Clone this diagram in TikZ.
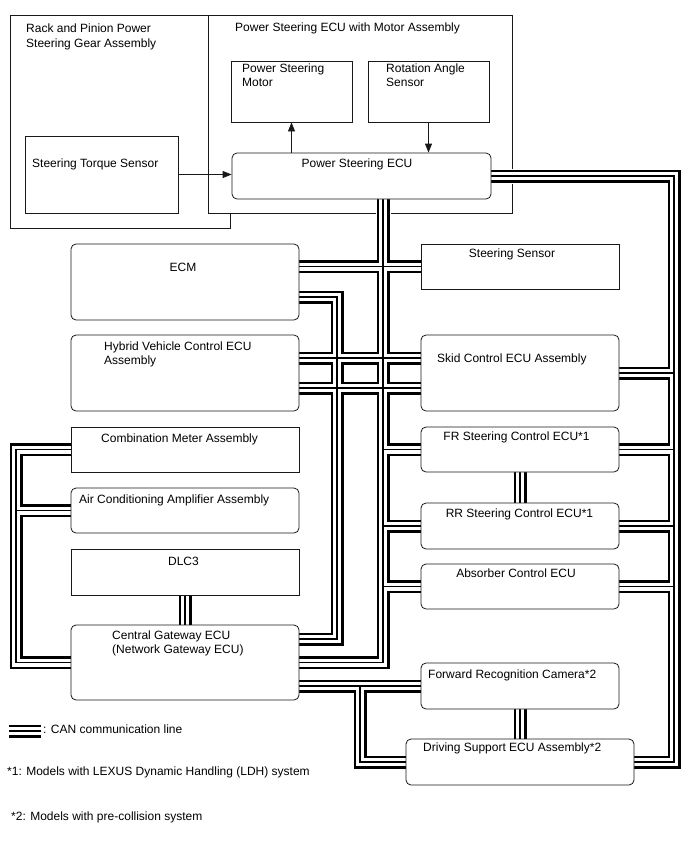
\documentclass[tikz,border=0pt]{standalone}
\usepackage{fontspec}
\setmainfont{Liberation Sans}
\usetikzlibrary{
  arrows.meta,
  positioning,
  calc,
}
\definecolor{edgecol}{RGB}{25,25,25}
\pgfdeclarelayer{bottom}
\pgfdeclarelayer{canlayer}
\pgfsetlayers{bottom,canlayer,main}
\tikzset{
  housing/.style={
    rectangle, draw=edgecol, line width=0.8pt, fill=white, inner sep=0pt
  },
  unitbox/.style={housing},
  ecubox/.style={housing, rounded corners=5pt},
  boxsize/.style 2 args={minimum width=#1pt, minimum height=#2pt},
  lbl/.style={inner sep=0pt, align=left, font=\fontsize{12}{13.5}\selectfont},
  sigarrow/.style={-{Triangle[length=9pt, width=7pt]}, line width=0.8pt, edgecol},
  canroutes/.style={insert path={
    % trunk below the power steering ECU
    (trA |- ps.south) -- (trA |- cg.east) -- (cg.east)
    (ecm.east |- ss.west) -- (ss.west)
    ($(hv.east)+(0,-15)$) -- ($(skid.west)+(0,-15)$)
    ($(hv.east)+(0,15)$) -- ($(skid.west)+(0,15)$)
    (trA |- fr.west) -- (fr.west)
    (trA |- rr.west) -- (rr.west)
    (trA |- absorb.west) -- (absorb.west)
    % second ECM line to the gateway
    ($(ecm.east)+(0,15)$) -| (trB |- cgB) -- (cgB)
    % right-hand bus
    (ps.east) -| (trC |- ds.east) -- (ds.east)
    (trC |- skid.east) -- (skid.east)
    (trC |- fr.east) -- (fr.east)
    (trC |- rr.east) -- (rr.east)
    (trC |- absorb.east) -- (absorb.east)
    % gateway to camera and driving support
    (cg.east |- frc.west) -- (frc.west)
    (trD |- frc.west) |- (ds.west)
    % short links
    (fr.south) -- (rr.north)
    (frc.south) -- (ds.north)
    (dlc.south) -- (cg.north)
    % left-hand bus
    (cm.west) -| (trG |- cg.west) -- (cg.west)
    (trG |- ac.west) -- (ac.west)
    % legend
    (legA) -- (legB)
  }},
}

\begin{document}
\begin{tikzpicture}[x=1pt, y=-1pt]

  % ── Page and housings ──
  \begin{pgfonlayer}{bottom}
    \path[use as bounding box, fill=white] (0,0) rectangle (688,852);
    \node[housing, boxsize={220}{213}] (rack) at (120,121.5) {};
    \node[housing, boxsize={304}{198}] (psma) at (360,114) {};
  \end{pgfonlayer}

  % ── Power steering units ──
  \node[unitbox, boxsize={121}{61}] (mot) at (291.5,91.5) {};
  \node[unitbox, boxsize={121}{61}] (ras) at (428.5,91.5) {};
  \node[unitbox, boxsize={153}{77}] (ts)  at (101.5,174.5) {};
  \node[ecubox,  boxsize={259}{46}] (ps)  at (361.5,176) {};

  % ── Left column ──
  \node[ecubox,  boxsize={228}{76}] (ecm) at (185,282) {};
  \node[ecubox,  boxsize={228}{76}] (hv)  at (185,373) {};
  \node[unitbox, boxsize={228}{45}] (cm)  at (185,449.5) {};
  \node[ecubox,  boxsize={228}{45}] (ac)  at (185,510.5) {};
  \node[unitbox, boxsize={228}{46}] (dlc) at (185,572) {};
  \node[ecubox,  boxsize={228}{75}] (cg)  at (185,662.5) {};

  % ── Right column ──
  \node[unitbox, boxsize={198}{45}] (ss)     at (520,266.5) {};
  \node[ecubox,  boxsize={198}{76}] (skid)   at (520,373) {};
  \node[ecubox,  boxsize={198}{45}] (fr)     at (520,449.5) {};
  \node[ecubox,  boxsize={198}{46}] (rr)     at (520,526) {};
  \node[ecubox,  boxsize={198}{45}] (absorb) at (520,586.5) {};
  \node[ecubox,  boxsize={198}{46}] (frc)    at (520,686) {};
  \node[ecubox,  boxsize={228}{46}] (ds)     at (520,762) {};

  % ── Bus columns ──
  \coordinate (trA) at (383,0);
  \coordinate (trB) at (337,0);
  \coordinate (trC) at (674,0);
  \coordinate (trD) at (360,0);
  \coordinate (trG) at (16,0);
  \coordinate (cgB) at ($(cg.east)+(0,-23.5)$);
  \coordinate (legA) at (9,731);
  \coordinate (legB) at (41,731);

  % ── CAN communication lines ──
  \begin{pgfonlayer}{canlayer}
    \foreach \lw/\col in {15/white, 13/black, 8/white, 1.3/black}
      \draw[line width=\lw pt, draw=\col, canroutes];
  \end{pgfonlayer}

  % ── Signal arrows ──
  \draw[sigarrow] (ts.east) -- (ts.east -| ps.west);
  \draw[sigarrow] (mot.south |- ps.north) -- (mot.south);
  \draw[sigarrow] (ras.south) -- (ras.south |- ps.north);

  % ── Labels ──
  \node[lbl, anchor=north west] (racktxt) at (26,24) {Rack and Pinion Power\\[1.5pt]Steering Gear Assembly};
  \node[lbl, anchor=north west] (psmatxt) at (235,23) {Power Steering ECU with Motor Assembly};
  \node[lbl, anchor=north west] (mottxt)  at (242,64) {Power Steering\\Motor};
  \node[lbl, anchor=north west] (rastxt)  at (386,64) {Rotation Angle\\Sensor};
  \node[lbl, anchor=north west] (tstxt)   at (32,159) {Steering Torque Sensor};
  \node[lbl, anchor=north]      (pstxt)   at (357,159) {Power Steering ECU};

  \node[lbl, anchor=north]      (ecmtxt)  at (183,263) {ECM};
  \node[lbl, anchor=north west] (hvtxt)   at (104,342) {Hybrid Vehicle Control ECU\\Assembly};
  \node[lbl, anchor=north west] (cmtxt)   at (101,434) {Combination Meter Assembly};
  \node[lbl, anchor=north west] (actxt)   at (79,495) {Air Conditioning Amplifier Assembly};
  \node[lbl, anchor=north]      (dlctxt)  at (183.5,557) {DLC3};
  \node[lbl, anchor=north west] (cgtxt)   at (112,631) {Central Gateway ECU\\(Network Gateway ECU)};

  \node[lbl, anchor=north]      (sstxt)   at (512,249) {Steering Sensor};
  \node[lbl, anchor=north west] (skidtxt) at (437,354) {Skid Control ECU Assembly};
  \node[lbl, anchor=north]      (frtxt)   at (516.5,432) {FR Steering Control ECU*1};
  \node[lbl, anchor=north]      (rrtxt)   at (519.5,509) {RR Steering Control ECU*1};
  \node[lbl, anchor=north]      (abstxt)  at (516,569) {Absorber Control ECU};
  \node[lbl, anchor=north west] (frctxt)  at (428,670) {Forward Recognition Camera*2};
  \node[lbl, anchor=north west] (dstxt)   at (423,743) {Driving Support ECU Assembly*2};

  % ── Legend and notes ──
  \node[lbl, anchor=north west] (legtxt)  at (43,725) {: CAN communication line};
  \node[lbl, anchor=north west] (note1)   at (7,767) {*1: Models with LEXUS Dynamic Handling (LDH) system};
  \node[lbl, anchor=north west] (note2)   at (11,812) {*2: Models with pre-collision system};

\end{tikzpicture}
\end{document}
